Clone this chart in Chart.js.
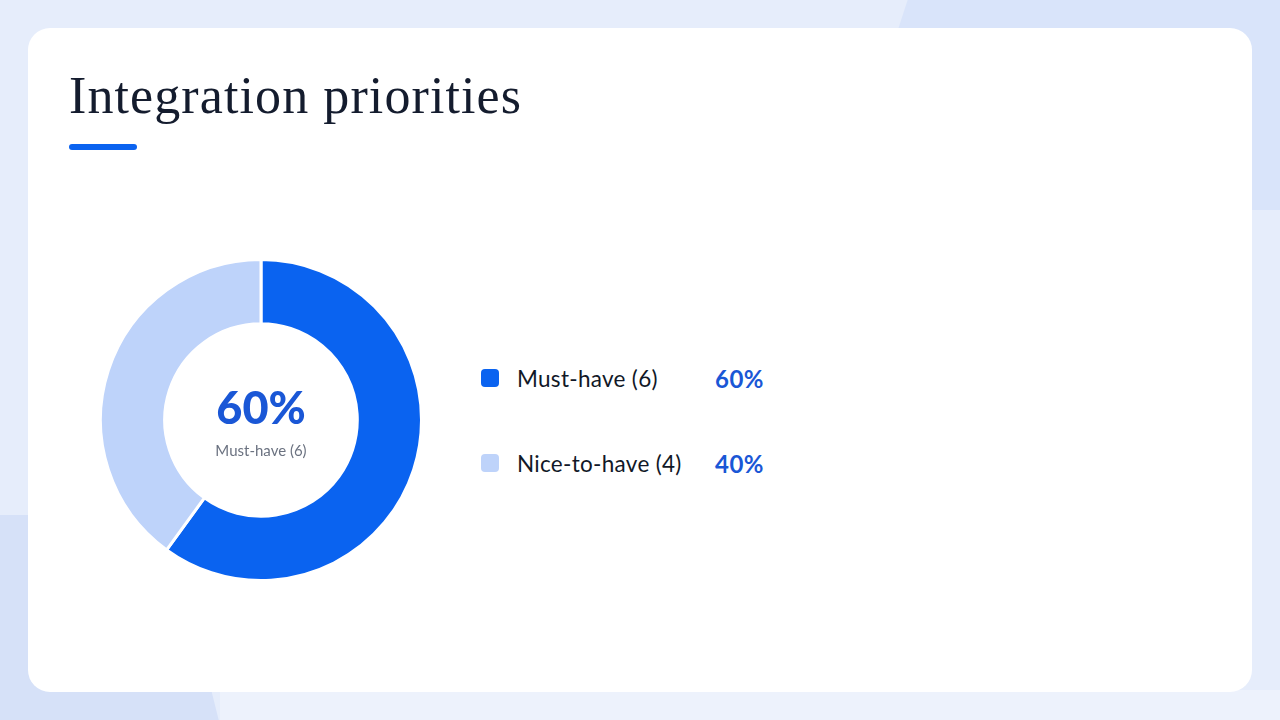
<!DOCTYPE html>
<html lang="en">
<head>
    <meta charset="UTF-8">
    <title>Integration priorities</title>
    <script src="https://cdn.jsdelivr.net/npm/chart.js"></script>
    <style>
        html, body { margin: 0; padding: 0; }
        body {
            width: 1280px; height: 720px; overflow: hidden; position: relative;
            background: #e6edfb;
            font-family: Lato, "Noto Sans", sans-serif;
        }
        .blob { position: absolute; }
        .blob1 { left: 880px; top: -40px; width: 520px; height: 250px; background: #d9e4fa; transform: skewX(-18deg); }
        .blob2 { left: -60px; top: 515px; width: 260px; height: 260px; background: #d6e1f8; transform: skewX(14deg); border-radius: 40px; }
        .blob3 { left: 220px; top: 690px; width: 1100px; height: 60px; background: #edf2fc; }
        .card {
            position: absolute; left: 28px; top: 28px; width: 1224px; height: 664px;
            background: #fff; border-radius: 22px;
        }
        h1 {
            position: absolute; left: 41px; top: 38px; margin: 0;
            font-family: "Liberation Serif", "DejaVu Serif", serif;
            font-weight: normal; font-size: 52px; color: #141c2e; letter-spacing: 1.1px;
        }
        .accent {
            position: absolute; left: 41px; top: 116px; width: 68px; height: 6px;
            background: #0b63f0; border-radius: 3px;
        }
        .donut { position: absolute; left: 71px; top: 230px; width: 324px; height: 324px; }
        .center {
            position: absolute; left: 71px; top: 230px; width: 324px; height: 324px;
            display: flex; flex-direction: column; align-items: center; justify-content: center;
            pointer-events: none;
        }
        .center .big { font-size: 45px; font-weight: 900; color: #1a57d6; line-height: 1; margin-top: 4px; }
        .center .small { font-size: 15px; color: #6b7280; margin-top: 11px; }
        .legend { position: absolute; left: 453px; top: 337px; }
        .row { position: absolute; left: 0; height: 26px; display: flex; align-items: center; white-space: nowrap; }
        .sw { width: 18px; height: 18px; border-radius: 4px; }
        .lab { position: absolute; left: 36px; font-size: 22.5px; color: #111827; letter-spacing: 0.3px; }
        .pct { position: absolute; left: 234px; font-size: 24px; font-weight: 700; color: #1a57d6; letter-spacing: 0.5px; }
    </style>
</head>
<body>
    <div class="blob blob1"></div>
    <div class="blob blob2"></div>
    <div class="blob blob3"></div>
    <div class="card">
        <h1>Integration priorities</h1>
        <div class="accent"></div>
        <canvas id="donut" class="donut" width="324" height="324"></canvas>
        <div class="center">
            <div class="big" id="centerPct"></div>
            <div class="small" id="centerLabel"></div>
        </div>
        <div class="legend" id="legend"></div>
    </div>

    <script>
        // chart data
        const categories = ['Must-have', 'Nice-to-have'];
        const counts = [6, 4];
        const colors = ['#0a63f0', '#bed3fa'];

        const total = counts.reduce((a, b) => a + b, 0);
        const pct = counts.map(c => Math.round(c / total * 100) + '%');
        const labels = categories.map((c, i) => `${c} (${counts[i]})`);

        // center text
        document.getElementById('centerPct').textContent = pct[0];
        document.getElementById('centerLabel').textContent = labels[0];

        // legend built from the arrays
        const legend = document.getElementById('legend');
        labels.forEach((l, i) => {
            const row = document.createElement('div');
            row.className = 'row';
            row.style.top = (i * 85) + 'px';
            row.innerHTML = `<div class="sw" style="background:${colors[i]}"></div>` +
                `<span class="lab">${l}</span><span class="pct">${pct[i]}</span>`;
            legend.appendChild(row);
        });

        new Chart(document.getElementById('donut'), {
            type: 'doughnut',
            data: {
                labels: labels,
                datasets: [{
                    data: counts,
                    backgroundColor: colors,
                    borderColor: '#ffffff',
                    borderWidth: 3,
                    hoverOffset: 0
                }]
            },
            options: {
                responsive: false,
                animation: false,
                cutout: '60%',
                plugins: {
                    legend: { display: false },
                    tooltip: { enabled: false }
                }
            }
        });
    </script>
</body>
</html>
